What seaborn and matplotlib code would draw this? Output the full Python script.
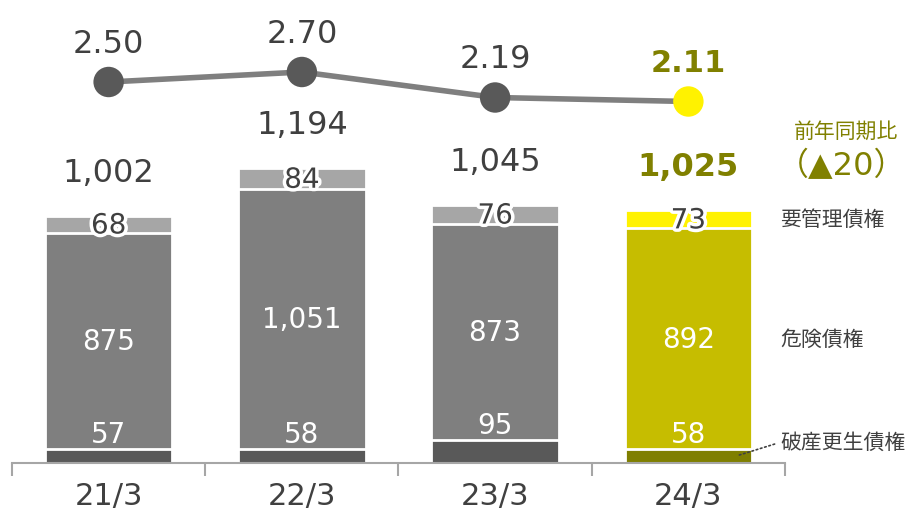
import numpy as np
import pandas as pd
import seaborn as sns
import matplotlib.pyplot as plt
import matplotlib.patheffects as pe

periods = ["21/3", "22/3", "23/3", "24/3"]
bankrupt = [57, 58, 95, 58]        # 破産更生債権
doubtful = [875, 1051, 873, 892]   # 危険債権
special = [68, 84, 76, 73]         # 要管理債権
totals = [1002, 1194, 1045, 1025]
ratio = [2.50, 2.70, 2.19, 2.11]
yoy_label = "（▲20）"

sns.set_theme(style="white")
# DejaVu for latin digits (Verdana-like), Noto CJK for the Japanese labels
plt.rcParams["font.family"] = ["DejaVu Sans", "Noto Sans CJK JP"]

dark = "#404040"
olive = "#808000"
c_bottom = ["#595959"] * 3 + ["#7F7F00"]
c_mid = ["#7F7F7F"] * 3 + ["#C6BD00"]
c_top = ["#A6A6A6"] * 3 + ["#FFF200"]

df = pd.DataFrame({"period": periods, "bankrupt": bankrupt, "doubtful": doubtful,
                   "special": special, "total": totals, "ratio": ratio})
df["lower2"] = df["bankrupt"] + df["doubtful"]

fig = plt.figure(figsize=(9.10, 5.11), dpi=100)
ax = fig.add_axes([12 / 910, 48 / 511, 773 / 910, 463 / 511])

# stacked bars drawn as cumulative layers, white edges give separators
for col, pal in [("total", c_top), ("lower2", c_mid), ("bankrupt", c_bottom)]:
    sns.barplot(data=df, x="period", y=col, hue="period", palette=pal, legend=False,
                width=0.66, saturation=1, edgecolor="white", linewidth=2, ax=ax)

ax.set_xlim(-0.5, 3.5)
ax.set_ylim(0, 1875)
ax.set_xlabel("")
ax.set_ylabel("")
ax.set_yticks([])
for s in ["top", "right", "left"]:
    ax.spines[s].set_visible(False)
ax.spines["bottom"].set_color("#A6A6A6")
ax.spines["bottom"].set_linewidth(1.5)
ax.spines["bottom"].set_zorder(5)
ax.tick_params(axis="x", which="major", length=0, pad=14, labelsize=22, labelcolor=dark)
ax.set_xticks(np.arange(-0.5, 4, 1), minor=True)
ax.tick_params(axis="x", which="minor", bottom=True, length=9, width=1.5,
               color="#A6A6A6", direction="out")

stroke = [pe.withStroke(linewidth=5, foreground="white")]
for i in range(4):
    last = i == 3
    ax.text(i, totals[i] + 172, f"{totals[i]:,}", ha="center", va="center", fontsize=23,
            color=olive if last else dark, fontweight="bold" if last else "normal")
    ax.text(i, df["lower2"][i] + special[i] / 2 - 4, f"{special[i]}", ha="center", va="center",
            fontsize=20, color=dark, path_effects=stroke)
    ax.text(i, bankrupt[i] + doubtful[i] / 2 - 4, f"{doubtful[i]:,}", ha="center", va="center",
            fontsize=20, color="white")
    ax.text(i, bankrupt[i] + 55, f"{bankrupt[i]}", ha="center", va="center",
            fontsize=20, color="white")

# ratio line on a twin axis
ax2 = ax.twinx()
ax2.set_ylim(-5.12, 4.14)
ax2.axis("off")
xs = np.arange(4)
sns.lineplot(x=xs, y=ratio, color="#7F7F7F", linewidth=4, ax=ax2)
sns.scatterplot(x=xs, y=ratio, hue=periods, palette=["#595959"] * 3 + ["#FFF200"],
                s=480, edgecolor="none", legend=False, ax=ax2, zorder=4)
for i in range(4):
    last = i == 3
    ax2.annotate(f"{ratio[i]:.2f}", (i, ratio[i]), xytext=(0, 27), textcoords="offset points",
                 ha="center", va="center", fontsize=22 if last else 23,
                 color=olive if last else dark, fontweight="bold" if last else "normal")

# right side labels
fig.text(846 / 910, 1 - 132 / 511, "前年同期比", ha="center", va="center", fontsize=15, color=olive)
fig.text(842 / 910, 1 - 166 / 511, yoy_label, ha="center", va="center", fontsize=23, color=olive)
fig.text(780 / 910, 1 - 220 / 511, "要管理債権", ha="left", va="center", fontsize=15, color=dark)
fig.text(780 / 910, 1 - 340 / 511, "危険債権", ha="left", va="center", fontsize=15, color=dark)
fig.text(780 / 910, 1 - 443 / 511, "破産更生債権", ha="left", va="center", fontsize=15, color=dark)
ax.annotate("", xy=(3.25, bankrupt[3] / 2), xytext=(3.46, 80),
            arrowprops=dict(arrowstyle="-", linestyle=":", color=dark, lw=1.2),
            annotation_clip=False)

fig.savefig("out.png", dpi=100)
